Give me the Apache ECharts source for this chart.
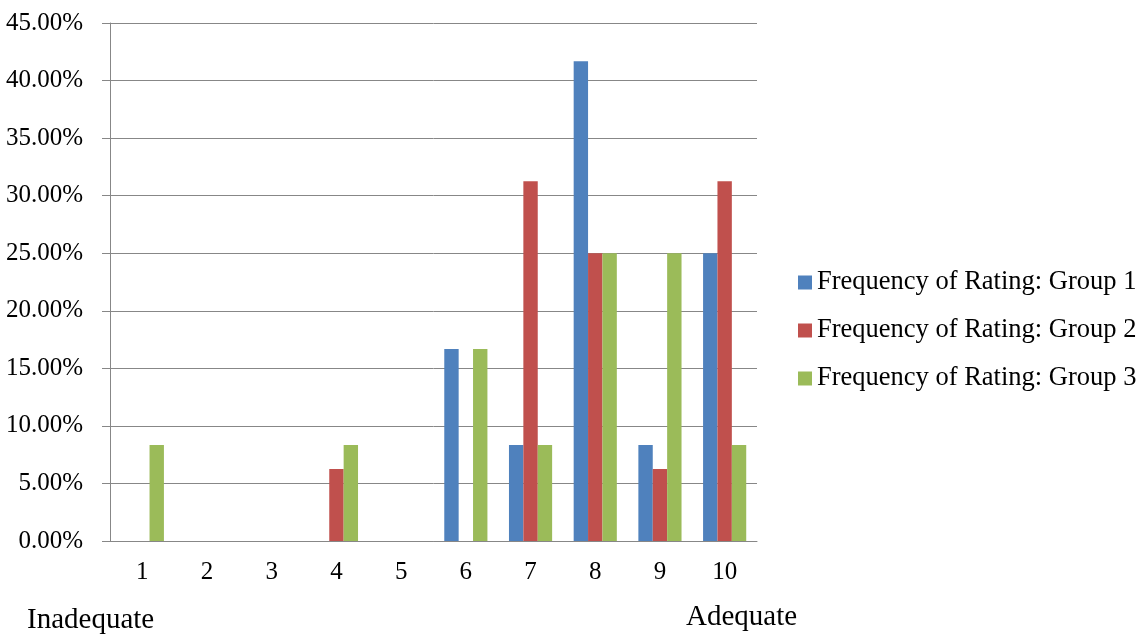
<!DOCTYPE html>
<html>
<head>
<meta charset="utf-8">
<script src="https://cdn.jsdelivr.net/npm/echarts@6/dist/echarts.min.js"></script>
<style>
  html, body { margin: 0; padding: 0; background: #fff; }
  #chart { width: 1146px; height: 637px; }
</style>
</head>
<body>
<div id="chart"></div>
<script>
// Rating scale 1..10 and the share of each group giving each rating (percent)
const ratings = ['1', '2', '3', '4', '5', '6', '7', '8', '9', '10'];
const group1 = [0, 0, 0, 0, 0, 16.67, 8.33, 41.67, 8.33, 25.0];
const group2 = [0, 0, 0, 6.25, 0, 0, 31.25, 25.0, 6.25, 31.25];
const group3 = [8.33, 0, 0, 8.33, 0, 16.67, 8.33, 25.0, 25.0, 8.33];
const seriesNames = [
  'Frequency of Rating: Group 1',
  'Frequency of Rating: Group 2',
  'Frequency of Rating: Group 3'
];
const colors = ['#4F81BD', '#C0504D', '#9BBB59'];
const yMax = 45;
const yStep = 5;

const font = '"Liberation Serif", "Times New Roman", serif';
const gridColor = '#878787';

const chart = echarts.init(document.getElementById('chart'), null, { renderer: 'canvas' });

const makeBar = (name, data, color) => ({
  name: name,
  type: 'bar',
  data: data,
  barGap: '0%',
  barCategoryGap: '33.3%',
  itemStyle: { color: color },
  emphasis: { disabled: true }
});

chart.setOption({
  animation: false,
  backgroundColor: '#ffffff',
  textStyle: { fontFamily: font },
  grid: { left: 110, right: 389, top: 23, bottom: 96, containLabel: false },
  legend: {
    orient: 'vertical',
    left: 798,
    top: 269,
    padding: 0,
    itemWidth: 14,
    itemHeight: 14,
    itemGap: 21,
    icon: 'rect',
    data: seriesNames,
    textStyle: { fontFamily: font, fontSize: 26.5, color: '#000', lineHeight: 26, padding: [0, 0, 0, 0] }
  },
  xAxis: {
    type: 'category',
    data: ratings,
    axisLine: { show: true, lineStyle: { color: gridColor, width: 1 } },
    axisTick: { show: false },
    axisLabel: { fontFamily: font, fontSize: 25, color: '#000', margin: 19 },
    splitLine: { show: false }
  },
  yAxis: {
    type: 'value',
    min: 0,
    max: yMax,
    interval: yStep,
    axisLine: { show: true, lineStyle: { color: gridColor, width: 1 } },
    axisTick: { show: true, inside: false, length: 8, lineStyle: { color: gridColor } },
    axisLabel: {
      fontFamily: font, fontSize: 25, color: '#000', margin: 27,
      formatter: v => v.toFixed(2) + '%'
    },
    splitLine: { show: true, lineStyle: { color: gridColor, width: 1 } }
  },
  graphic: [
    {
      type: 'text', x: 27, y: 620,
      style: { text: 'Inadequate', font: '29px ' + font, fill: '#000', verticalAlign: 'middle' }
    },
    {
      type: 'text', x: 686, y: 617,
      style: { text: 'Adequate', font: '29px ' + font, fill: '#000', verticalAlign: 'middle' }
    }
  ],
  series: [
    makeBar(seriesNames[0], group1, colors[0]),
    makeBar(seriesNames[1], group2, colors[1]),
    makeBar(seriesNames[2], group3, colors[2])
  ]
});
</script>
</body>
</html>
